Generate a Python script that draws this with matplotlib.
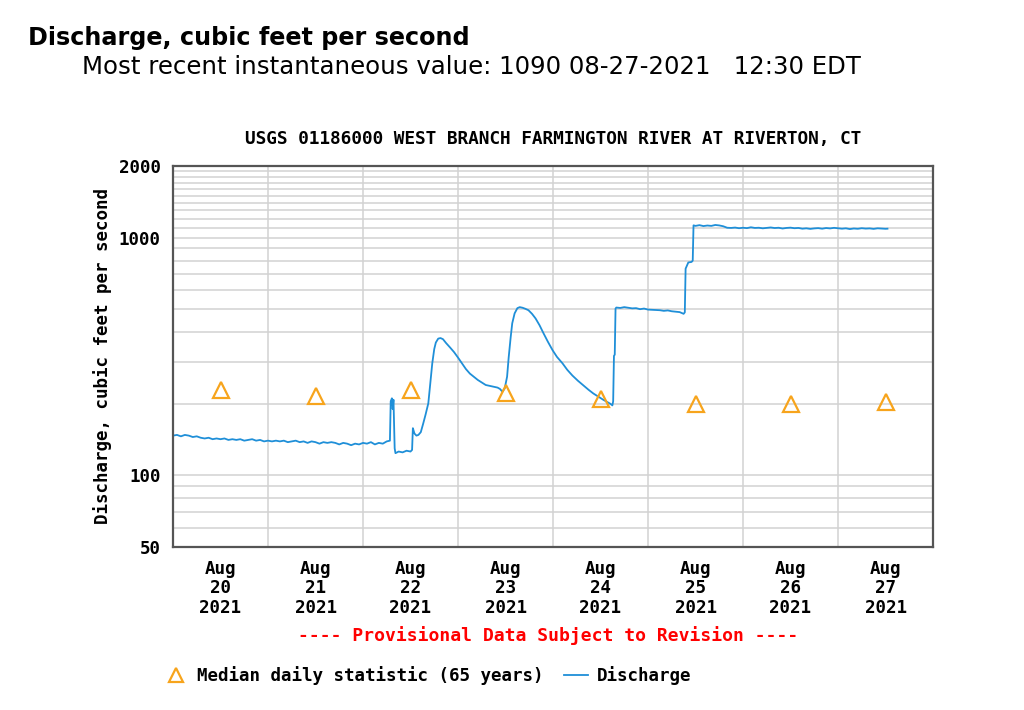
import numpy as np
import matplotlib
matplotlib.use("Agg")
import matplotlib.pyplot as plt
import matplotlib.dates as mdates
from matplotlib.ticker import FixedLocator, NullFormatter, FixedFormatter

# data (hours after 2021-08-20 00:00, cfs)
hours = [
    0, 1, 2, 3, 4, 5, 6, 7, 8, 9, 10, 11, 12, 13, 14, 15, 16, 17, 18, 19, 20, 21, 22, 23,
    24, 25, 26, 27, 28, 29, 30, 31, 32, 33, 34, 35, 36, 37, 38, 39, 40, 41, 42, 43, 44, 45, 46, 47,
    48, 49, 50, 51, 52, 53, 54, 54.8, 55.0, 55.3, 55.5, 55.7, 56.0, 56.2, 57, 58, 59, 60, 60.4,
    60.6, 61, 61.5, 62, 62.6, 63.2, 63.8, 64.5, 65.0, 65.5, 66, 66.4, 67, 67.6, 68.2, 69, 70,
    71, 72, 73, 74, 75, 76, 77, 78, 79, 80, 81, 82, 82.6, 83.2, 83.8, 84.4, 84.8, 85.3, 85.7,
    86.3, 87, 87.6, 88.3, 89, 89.8, 90.7, 91.6, 92.6, 93.6, 94.7, 95.9, 97, 98.4, 99.6, 100.9,
    102.3, 103.7, 105, 106.2, 107.5, 108.7, 109.8, 110.5, 111.0, 111.2, 111.4, 111.6, 111.8,
    112, 113, 114, 115, 116, 117, 118, 119, 120, 121, 122, 123, 124, 125, 126, 127, 128, 128.5,
    129, 129.3, 129.5, 129.8, 130.2, 131, 131.3, 131.5, 132, 133, 134, 135, 136, 137, 138, 139,
    140, 141, 142, 143, 144, 145, 146, 147, 148, 149, 150, 151, 152, 153, 154, 155, 156, 157,
    158, 159, 160, 161, 162, 163, 164, 165, 166, 167, 168, 169, 170, 171, 172, 173, 174, 175,
    176, 177, 178, 179, 180, 180.5,
]
cfs = [
    147, 148, 146, 148, 147, 145, 146, 144, 143, 144, 142, 143, 142, 143, 141, 142, 141, 142, 140, 141, 142, 140, 141, 139,
    140, 139, 140, 139, 140, 138, 139, 140, 138, 139, 137, 139, 138, 136, 138, 137, 138, 137, 135, 137, 136, 134, 136, 135,
    137, 136, 138, 135, 137, 136, 139, 140, 205, 211, 190, 208, 130, 124, 126, 125, 127, 126, 128,
    158, 150, 147, 148, 152, 165, 180, 201, 245, 296, 340, 362, 376, 378, 374, 360, 345,
    330, 313, 296, 280, 268, 260, 252, 246, 240, 238, 236, 234, 231, 225, 232, 260, 313, 380, 436,
    480, 505, 510, 507, 502, 495, 478, 457, 428, 396, 365, 336, 315, 296, 278, 263,
    250, 239, 229, 221, 214, 208, 203, 200, 197, 205, 318, 322, 503,
    508, 506, 510, 507, 504, 505, 500, 503, 498, 497, 496, 495, 492, 494, 490, 488, 486, 482,
    478, 485, 740, 760, 786, 790, 800, 1126, 1120, 1128, 1118, 1124, 1120, 1130, 1125, 1116,
    1100, 1098, 1102, 1095, 1100, 1096, 1105, 1098, 1100, 1094, 1099, 1103, 1097, 1100, 1092, 1098, 1101, 1095,
    1098, 1090, 1094, 1088, 1093, 1096, 1090, 1097, 1093, 1099, 1095, 1090, 1094, 1086, 1092, 1089, 1095, 1091,
    1093, 1088, 1094, 1091, 1089, 1090,
]

days = ["2021-08-20", "2021-08-21", "2021-08-22", "2021-08-23",
        "2021-08-24", "2021-08-25", "2021-08-26", "2021-08-27"]
median_cfs = [228, 215, 228, 222, 210, 200, 200, 204]

start = np.datetime64("2021-08-20T00:00")
t = start + (np.array(hours) * 60).astype("timedelta64[m]")
t_med = np.array(days, dtype="datetime64[D]") + np.timedelta64(12, "h")

mono = "DejaVu Sans Mono"
fs = 12.6
blue = "#1f8fd8"
orange = "#f7a41c"

fig = plt.figure(figsize=(10.24, 7.10), dpi=100)
ax = fig.add_axes([173 / 1024, 1 - 547 / 710, 760 / 1024, 381 / 710])

ax.plot(t, cfs, color=blue, lw=1.3, label="Discharge")
ax.plot(t_med, median_cfs, ls="none", marker="^", ms=12, mfc="none", mec=orange, mew=1.6,
        label="Median daily statistic (65 years)")

ax.set_yscale("log")
ax.set_ylim(50, 2000)
ax.set_xlim(np.datetime64("2021-08-20T00:00"), np.datetime64("2021-08-28T00:00"))

ax.yaxis.set_major_locator(FixedLocator([50, 100, 1000, 2000]))
ax.yaxis.set_major_formatter(FixedFormatter(["50", "100", "1000", "2000"]))
minor_y = [60, 70, 80, 90] + list(range(200, 1000, 100)) + list(range(1100, 2000, 100))
ax.yaxis.set_minor_locator(FixedLocator(minor_y))
ax.yaxis.set_minor_formatter(NullFormatter())

ax.xaxis.set_major_locator(mdates.HourLocator(byhour=12))
ax.xaxis.set_major_formatter(mdates.DateFormatter("%b\n%d\n%Y"))
ax.xaxis.set_minor_locator(mdates.DayLocator())

ax.grid(True, which="major", axis="y", color="#d2d2d2", lw=1.1)
ax.grid(True, which="minor", axis="y", color="#d2d2d2", lw=1.1)
ax.grid(True, which="minor", axis="x", color="#d2d2d2", lw=1.1)
ax.set_axisbelow(True)

ax.tick_params(which="both", length=0)
ax.tick_params(axis="x", pad=9)
ax.tick_params(axis="y", pad=9)
for lab in ax.get_xticklabels() + ax.get_yticklabels():
    lab.set_fontfamily(mono)
    lab.set_fontweight("bold")
    lab.set_fontsize(fs)
    lab.set_linespacing(1.12)

for s in ax.spines.values():
    s.set_color("#555555")
    s.set_linewidth(1.6)

ax.set_ylabel("Discharge, cubic feet per second", family=mono, weight="bold",
              size=fs, labelpad=5)
ax.set_title("USGS 01186000 WEST BRANCH FARMINGTON RIVER AT RIVERTON, CT",
             family=mono, weight="bold", size=12.8, pad=16)

fig.text(28 / 1024, 1 - 38 / 710, "Discharge, cubic feet per second",
         family="DejaVu Sans", weight="bold", size=17.2, va="center", ha="left")
fig.text(82 / 1024, 1 - 67 / 710,
         "Most recent instantaneous value: 1090 08-27-2021   12:30 EDT",
         family="DejaVu Sans", size=17.6, va="center", ha="left")

fig.text(548 / 1024, 1 - 636 / 710, "---- Provisional Data Subject to Revision ----",
         family=mono, weight="bold", size=13, color="red", ha="center", va="center")

h, l = ax.get_legend_handles_labels()
fig.legend(h[::-1], l[::-1], loc="center left", bbox_to_anchor=(148 / 1024, 1 - 676 / 710),
           ncol=2, frameon=False, handlelength=1.4, handletextpad=0.5, columnspacing=1.15,
           markerscale=0.8, prop={"family": mono, "weight": "bold", "size": fs})

fig.savefig("out.png", dpi=100)
